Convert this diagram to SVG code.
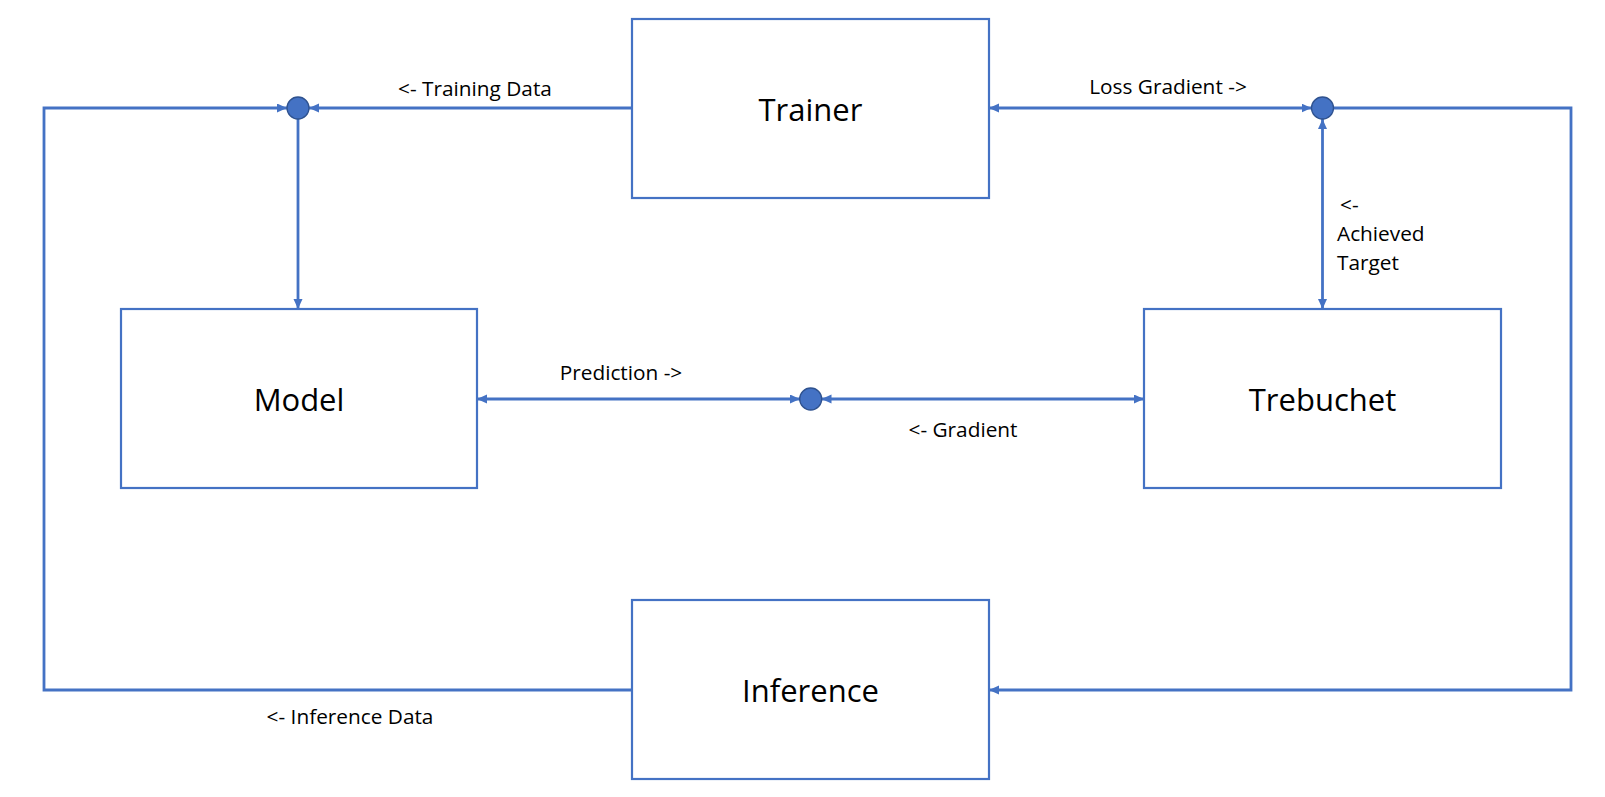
<svg xmlns="http://www.w3.org/2000/svg" width="1605" height="797" viewBox="0 0 1605 797">
<style>
.box{fill:#fff;stroke:#4472C4;stroke-width:2.2}
.big{font-family:"Open Sans","Liberation Sans",sans-serif;font-size:31px;fill:#000;text-anchor:middle}
.lbl{font-family:"Open Sans","Liberation Sans",sans-serif;font-size:20.8px;fill:#000}
.c{fill:none;stroke:#4472C4;stroke-width:2.8}
.dot{fill:#4472C4;stroke:#2F528F;stroke-width:1.3}
</style>
<defs>
<marker id="ah" markerUnits="userSpaceOnUse" markerWidth="11" markerHeight="10" refX="10" refY="4.5" orient="auto-start-reverse" viewBox="0 0 11 10">
<path d="M0,0 L10,4.5 L0,9 z" fill="#4472C4"/>
</marker>
</defs>
<rect width="1605" height="797" fill="#fff"/>
<g id="connectors">
<path class="c" d="M632,108 L309,108" marker-end="url(#ah)"/>
<path class="c" d="M632,690 L44,690 L44,108 L287,108" marker-end="url(#ah)"/>
<path class="c" d="M298,119 L298,309" marker-end="url(#ah)"/>
<path class="c" d="M477,399 L800,399" marker-start="url(#ah)" marker-end="url(#ah)"/>
<path class="c" d="M821.5,399 L1144,399" marker-start="url(#ah)" marker-end="url(#ah)"/>
<path class="c" d="M989,108 L1311.5,108" marker-start="url(#ah)" marker-end="url(#ah)"/>
<path class="c" d="M1322.5,119 L1322.5,309" marker-start="url(#ah)" marker-end="url(#ah)"/>
<path class="c" d="M1333.5,108 L1571,108 L1571,690 L989,690" marker-end="url(#ah)"/>
</g>
<g id="junction-left"><circle class="dot" cx="298" cy="108" r="11"/></g>
<g id="junction-mid"><circle class="dot" cx="810.7" cy="399" r="11"/></g>
<g id="junction-right"><circle class="dot" cx="1322.5" cy="108" r="11"/></g>
<g id="trainer"><rect class="box" x="632" y="19" width="357" height="179"/><text class="big" x="810.5" y="121">Trainer</text></g>
<g id="model"><rect class="box" x="121" y="309" width="356" height="179"/><text class="big" x="299" y="411">Model</text></g>
<g id="trebuchet"><rect class="box" x="1144" y="309" width="357" height="179"/><text class="big" x="1322.5" y="411">Trebuchet</text></g>
<g id="inference"><rect class="box" x="632" y="600" width="357" height="179"/><text class="big" x="810.5" y="702">Inference</text></g>
<g id="labels">
<text class="lbl" x="475" y="96" text-anchor="middle">&lt;- Training Data</text>
<text class="lbl" x="1168" y="94" text-anchor="middle">Loss Gradient -&gt;</text>
<text class="lbl" x="621" y="380" text-anchor="middle">Prediction -&gt;</text>
<text class="lbl" x="963" y="437" text-anchor="middle">&lt;- Gradient</text>
<text class="lbl" x="1340" y="212">&lt;-</text>
<text class="lbl" x="1337" y="241">Achieved</text>
<text class="lbl" x="1337" y="270">Target</text>
<text class="lbl" x="350" y="724" text-anchor="middle">&lt;- Inference Data</text>
</g>
</svg>
